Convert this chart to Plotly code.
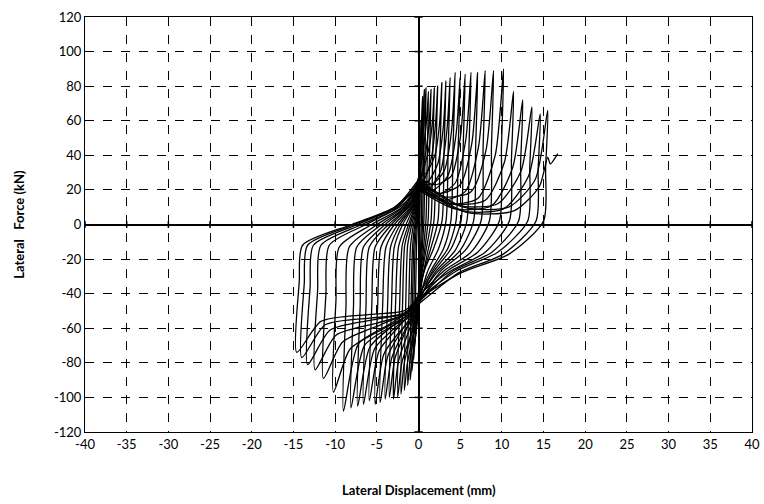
import plotly.graph_objects as go

# Tick values
x_ticks = list(range(-40, 45, 5))
y_ticks = list(range(-120, 140, 20))

# Hysteresis cycles: lateral displacement (mm) per cycle
disp_cycles = [
    [0, 0.1, 0.2, 0.3, 0.25, 0.18, 0.08, 0, -0.1, -0.25, -0.4, -0.33, -0.22, -0.1, 0],
    [0, 0.18, 0.35, 0.45, 0.5, 0.43, 0.35, 0.2, 0.1, 0, -0.1, -0.3, -0.5, -0.6, -0.52, -0.4, -0.25, -0.1, 0],
    [0, 0.25, 0.5, 0.63, 0.7, 0.6, 0.5, 0.3, 0.15, 0, -0.1, -0.35, -0.65, -0.8, -0.7, -0.55, -0.35, -0.14, 0],
    [0, 0.32, 0.63, 0.8, 0.9, 0.78, 0.65, 0.4, 0.2, 0, -0.12, -0.4, -0.8, -1.0, -0.88, -0.7, -0.45, -0.18, 0],
    [0, 0.42, 0.84, 1.07, 1.2, 1.05, 0.9, 0.55, 0.27, 0, -0.16, -0.52, -1.05, -1.3, -1.15, -0.95, -0.6, -0.25, 0],
    [0, 0.52, 1.05, 1.35, 1.5, 1.32, 1.15, 0.7, 0.33, 0, -0.2, -0.68, -1.36, -1.7, -1.52, -1.3, -0.8, -0.32, 0],
    [0, 0.66, 1.33, 1.71, 1.9, 1.7, 1.5, 0.9, 0.42, 0, -0.25, -0.84, -1.7, -2.1, -1.9, -1.65, -1.0, -0.4, 0],
    [0, 0.8, 1.6, 2.07, 2.3, 2.08, 1.85, 1.1, 0.5, 0, -0.3, -1.0, -2.0, -2.5, -2.25, -1.95, -1.2, -0.5, 0],
    [0, 0.98, 1.96, 2.52, 2.8, 2.57, 2.33, 1.4, 0.6, 0, -0.36, -1.2, -2.4, -3.0, -2.75, -2.4, -1.5, -0.6, 0],
    [0, 1.15, 2.3, 2.97, 3.3, 3.06, 2.82, 1.8, 0.75, 0, -0.42, -1.4, -2.8, -3.5, -3.23, -2.9, -1.9, -0.7, 0],
    [0, 1.33, 2.66, 3.42, 3.8, 3.55, 3.3, 2.4, 1.1, 0, -0.48, -1.6, -3.2, -4.0, -3.7, -3.35, -2.2, -0.8, 0],
    [0, 1.54, 3.08, 3.96, 4.4, 4.14, 3.88, 3.0, 1.45, 0, -0.55, -1.84, -3.68, -4.6, -4.3, -3.9, -2.5, -0.9, 0],
    [0, 1.75, 3.5, 4.5, 5.0, 4.75, 4.5, 3.5, 1.65, 0, -0.62, -2.08, -4.16, -5.2, -4.9, -4.5, -2.9, -1.05, 0],
    [0, 1.96, 3.92, 5.04, 5.6, 5.35, 5.1, 3.9, 1.85, 0, -0.7, -2.36, -4.72, -5.9, -5.6, -5.2, -3.25, -1.2, 0],
    [0, 2.2, 4.4, 5.67, 6.3, 6.05, 5.8, 4.4, 2.1, 0, -0.8, -2.64, -5.28, -6.6, -6.3, -5.9, -3.6, -1.3, 0],
    [0, 2.5, 5.0, 6.4, 7.1, 6.85, 6.6, 5.0, 2.35, 0, -0.88, -2.92, -5.84, -7.3, -7.0, -6.6, -4.0, -1.46, 0],
    [0, 2.8, 5.6, 7.2, 8.0, 7.75, 7.5, 5.6, 2.65, 0, -0.97, -3.24, -6.48, -8.1, -7.8, -7.4, -4.45, -1.6, 0],
    [0, 3.15, 6.3, 8.1, 9.0, 8.75, 8.5, 6.3, 3.0, 0, -1.08, -3.6, -7.2, -9.0, -8.7, -8.3, -4.95, -1.8, 0],
    [0, 3.6, 7.1, 9.2, 10.2, 9.95, 9.7, 7.1, 3.4, 0, -1.2, -4.1, -8.2, -10.2, -9.9, -9.5, -5.6, -2.0, 0],
    [0, 4.0, 8.0, 10.3, 11.4, 11.15, 10.9, 8.0, 3.8, 0, -1.37, -4.56, -9.1, -11.4, -11.1, -10.7, -6.3, -2.3, 0],
    [0, 4.4, 8.8, 11.3, 12.5, 12.25, 12.0, 8.8, 4.1, 0, -1.5, -5.0, -9.9, -12.4, -12.1, -11.7, -6.8, -2.5, 0],
    [0, 4.8, 9.5, 12.3, 13.6, 13.35, 13.1, 9.5, 4.5, 0, -1.6, -5.3, -10.6, -13.3, -13.0, -12.6, -7.3, -2.7, 0],
    [0, 5.1, 10.2, 13.2, 14.6, 14.35, 14.1, 10.2, 4.8, 0, -1.7, -5.6, -11.2, -14.0, -13.7, -13.3, -7.7, -2.8, 0],
    [0, 5.4, 10.8, 14.0, 15.5, 15.25, 15.0, 10.9, 5.1, 0, -1.75, -5.8, -11.7, -14.6, -14.3, -13.9, -8.0, -2.9, 0],
    [0, 5.8, 11.5, 14.5, 15.5, 15.8, 16.7],
]

# Lateral force (kN) per cycle
force_cycles = [
    [0, 20, 42, 60, 35, 8, -20, -40, -50, -58, -65, -35, -10, 6, 20],
    [20, 40, 58, 70, 74, 38, 3, -20, -32, -44, -52, -62, -72, -78, -38, -12, 0, 10, 24],
    [24, 42, 60, 72, 78, 40, 3, -18, -30, -42, -52, -64, -78, -85, -40, -12, 0, 10, 22],
    [22, 40, 57, 70, 79, 40, 3, -18, -32, -46, -54, -66, -80, -90, -42, -12, 0, 10, 26],
    [26, 38, 54, 67, 77, 39, 3, -16, -28, -40, -50, -63, -80, -93, -42, -12, 0, 10, 20],
    [20, 32, 48, 64, 78, 39, 2, -16, -30, -45, -53, -65, -81, -96, -44, -12, 0, 10, 25],
    [25, 33, 46, 62, 79, 40, 2, -15, -28, -42, -51, -63, -80, -98, -44, -12, 0, 10, 21],
    [21, 27, 40, 60, 80, 40, 2, -16, -30, -47, -55, -65, -80, -100, -45, -12, 0, 10, 27],
    [27, 30, 40, 58, 82, 41, 2, -15, -28, -43, -52, -62, -79, -101, -46, -13, 0, 10, 23],
    [23, 25, 35, 56, 83, 42, 2, -14, -26, -40, -49, -60, -77, -100, -46, -13, 0, 10, 19],
    [19, 21, 31, 55, 85, 42, 2, -14, -27, -45, -53, -61, -77, -101, -46, -13, 0, 10, 25],
    [25, 23, 31, 54, 88, 44, 2, -14, -27, -42, -51, -60, -76, -103, -47, -13, 0, 10, 22],
    [22, 20, 28, 52, 85, 43, 2, -14, -27, -46, -54, -61, -75, -104, -47, -13, 0, 10, 27],
    [27, 23, 28, 51, 87, 44, 2, -14, -27, -41, -50, -59, -73, -102, -47, -13, 0, 10, 20],
    [20, 17, 24, 49, 88, 44, 2, -15, -27, -44, -52, -59, -72, -104, -48, -13, 0, 10, 24],
    [24, 18, 23, 47, 88, 44, 2, -15, -27, -43, -51, -58, -71, -105, -48, -13, 0, 10, 21],
    [21, 14, 19, 45, 89, 45, 2, -15, -27, -46, -53, -59, -70, -106, -48, -13, 0, 10, 26],
    [26, 16, 19, 43, 89, 45, 2, -16, -27, -42, -50, -58, -69, -108, -48, -13, 0, 10, 22],
    [22, 12, 15, 40, 90, 45, 2, -16, -27, -44, -52, -60, -72, -97, -44, -13, 0, 10, 24],
    [24, 12, 14, 36, 77, 38, 2, -16, -27, -41, -51, -58, -68, -89, -40, -12, 0, 10, 20],
    [20, 9, 11, 33, 72, 36, 2, -16, -27, -45, -52, -57, -64, -84, -38, -12, 0, 10, 25],
    [25, 11, 12, 31, 68, 34, 2, -16, -27, -43, -51, -55, -61, -81, -36, -12, 0, 10, 22],
    [22, 8, 9, 28, 64, 32, 2, -17, -28, -46, -52, -54, -58, -77, -34, -12, 0, 10, 26],
    [26, 10, 10, 26, 66, 33, 2, -17, -28, -43, -50, -52, -56, -74, -33, -12, 0, 10, 23],
    [23, 7, 8, 22, 39, 35, 41],
]

fig = go.Figure()

for xs, ys in zip(disp_cycles, force_cycles):
    fig.add_trace(go.Scatter(
        x=xs, y=ys, mode="lines",
        line=dict(color="black", width=1.3, shape="spline", smoothing=0.7),
        showlegend=False, hoverinfo="skip",
    ))

# small cross ticks on the zero axes
shapes = []
for yv in y_ticks:
    shapes.append(dict(type="line", xref="x", yref="y", x0=-0.5, x1=0.5, y0=yv, y1=yv,
                       line=dict(color="black", width=1.5)))
for xv in x_ticks:
    shapes.append(dict(type="line", xref="x", yref="y", x0=xv, x1=xv, y0=-2, y1=2,
                       line=dict(color="black", width=1.5)))

font_family = "Lato, 'Open Sans', Arial, sans-serif"

axis_common = dict(
    showgrid=True, gridcolor="black", griddash="dash", gridwidth=1,
    zeroline=True, zerolinecolor="black", zerolinewidth=2,
    showline=True, linecolor="black", linewidth=1, mirror=True,
    ticks="", ticklen=0, tickfont=dict(size=13), automargin=False,
)

fig.update_layout(
    width=764, height=504,
    margin=dict(l=85, r=12, t=17, b=72),
    paper_bgcolor="white", plot_bgcolor="white",
    font=dict(family=font_family, size=13, color="black"),
    shapes=shapes,
    xaxis=dict(range=[-40, 40], tickvals=x_ticks, ticktext=[str(v) for v in x_ticks], **axis_common),
    yaxis=dict(range=[-120, 120], tickvals=y_ticks, ticktext=[str(v) for v in y_ticks], **axis_common),
    annotations=[
        dict(text="<b>Lateral Displacement (mm)</b>", xref="paper", yref="paper",
             x=0.5, y=-0.14, xanchor="center", yanchor="middle", showarrow=False,
             font=dict(size=13, family=font_family)),
        dict(text="<b>Lateral\u00a0\u00a0\u00a0Force (kN)</b>", xref="paper", yref="paper",
             x=-0.1, y=0.5, xanchor="center", yanchor="middle", showarrow=False,
             textangle=-90, font=dict(size=13, family=font_family)),
    ],
)

fig.write_html("out.html")
